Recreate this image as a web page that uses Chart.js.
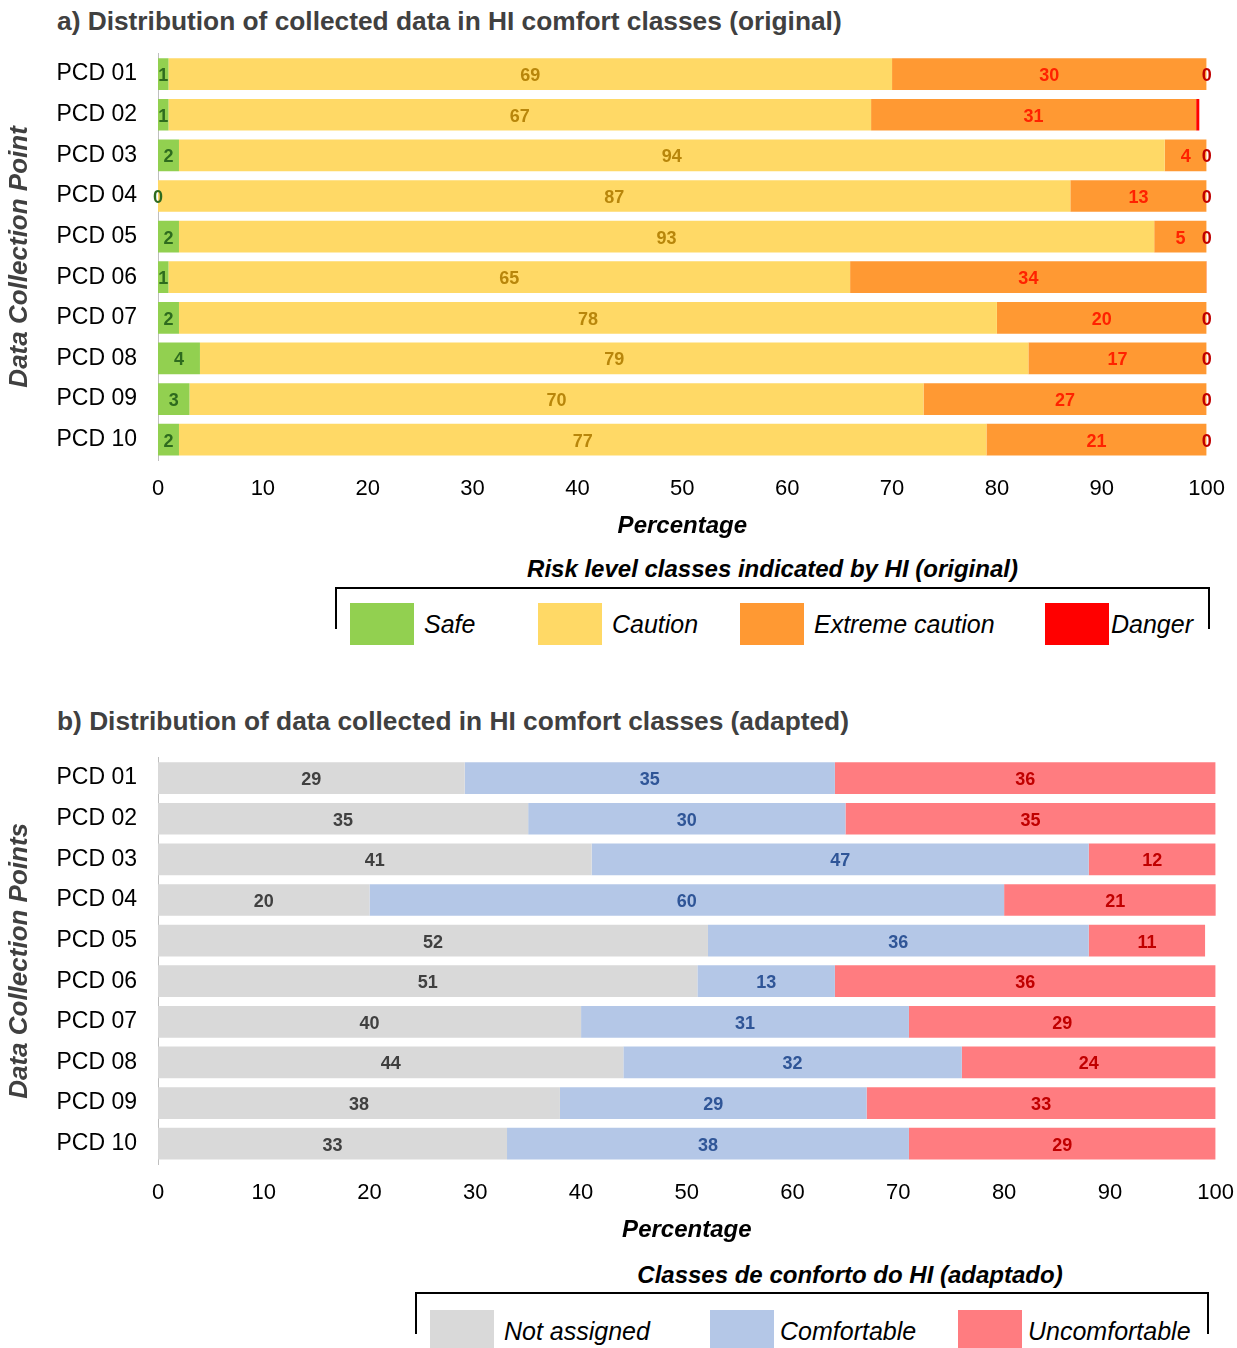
<!DOCTYPE html>
<html><head><meta charset="utf-8">
<script src="https://cdn.jsdelivr.net/npm/chart.js@4"></script>
<style>
body{margin:0;width:1237px;height:1348px;position:relative;background:#fff;font-family:"Liberation Sans",Arial,sans-serif;overflow:hidden}
.t{position:absolute;left:57px;font-weight:bold;font-size:26.3px;color:#404040}
.cv{position:absolute;left:0}
.lt{position:absolute;font-weight:bold;font-style:italic;font-size:24px;color:#000;text-align:center}
.lb{position:absolute;border:2px solid #000;border-bottom:none;height:40px}
.it{position:absolute;font-style:italic;font-size:25px;color:#000;display:flex;align-items:center}
.sw{display:inline-block;width:64px;height:42px;margin-right:10px}
</style></head><body>
<div class="t" style="top:6px">a) Distribution of collected data in HI comfort classes (original)</div>
<div class="cv" style="top:19px"><canvas id="c1" width="1241" height="526"></canvas></div>
<div class="lt" style="left:335px;width:875px;top:555px">Risk level classes indicated by HI (original)</div>
<div class="lb" style="left:335px;width:871px;top:587px"></div>
<div class="it" style="left:350px;top:603px"><span class="sw" style="background:#92d050"></span>Safe</div>
<div class="it" style="left:538px;top:603px"><span class="sw" style="background:#ffd966"></span>Caution</div>
<div class="it" style="left:740px;top:603px"><span class="sw" style="background:#ff9933"></span>Extreme caution</div>
<div class="it" style="left:1045px;top:603px"><span class="sw" style="background:#ff0000;margin-right:2px"></span>Danger</div>

<div class="t" style="top:706px">b) Distribution of data collected in HI comfort classes (adapted)</div>
<div class="cv" style="top:723px"><canvas id="c2" width="1250" height="526"></canvas></div>
<div class="lt" style="left:415px;width:870px;top:1261px">Classes de conforto do HI (adaptado)</div>
<div class="lb" style="left:415px;width:790px;top:1292px"></div>
<div class="it" style="left:430px;top:1310px"><span class="sw" style="background:#d9d9d9"></span>Not assigned</div>
<div class="it" style="left:710px;top:1310px"><span class="sw" style="background:#b4c7e7;margin-right:6px"></span>Comfortable</div>
<div class="it" style="left:958px;top:1310px"><span class="sw" style="background:#ff7c80;margin-right:6px"></span>Uncomfortable</div>
<script>
var categories=["PCD 01","PCD 02","PCD 03","PCD 04","PCD 05","PCD 06","PCD 07","PCD 08","PCD 09","PCD 10"];
var safe=[1,1,2,0,2,1,2,4,3,2];
var caution=[69,67,94,87,93,65,78,79,70,77];
var extreme=[30,31,4,13,5,34,20,17,27,21];
var danger=[0,0.3,0,0,0,0.3,0,0,0,0];
var notAssigned=[29,35,41,20,52,51,40,44,38,33];
var comfortable=[35,30,47,60,36,13,31,32,29,38];
var uncomfortable=[36,35,12,21,11,36,29,24,33,29];
var xTicks=[0,10,20,30,40,50,60,70,80,90,100];

var labelPlugin={id:'lbl',afterDatasetsDraw:function(chart){
  var ctx=chart.ctx;ctx.save();
  ctx.font='bold 18px "Liberation Sans", Arial';ctx.textAlign='center';ctx.textBaseline='middle';
  chart.data.datasets.forEach(function(ds,i){
    var meta=chart.getDatasetMeta(i);
    meta.data.forEach(function(bar,j){
      var v=ds.data[j];
      if(!Number.isInteger(v))return;
      ctx.fillStyle=ds.labelColor;
      ctx.fillText(String(v),(bar.x+bar.base)/2,bar.y+2);
    });
  });
  ctx.restore();
}};

function makeChart(id,sets,yTitle){
  new Chart(document.getElementById(id),{
    type:'bar',
    data:{labels:categories,datasets:sets.map(function(s){return {data:s[0],backgroundColor:s[1],labelColor:s[2],barPercentage:0.78,categoryPercentage:1}})},
    plugins:[labelPlugin],
    options:{indexAxis:'y',responsive:false,animation:false,
      layout:{padding:{top:7,right:0,left:0,bottom:0}},
      plugins:{legend:{display:false},tooltip:{enabled:false}},
      scales:{
        x:{stacked:true,min:0,max:100,afterBuildTicks:function(s){s.ticks=xTicks.map(function(v){return {value:v}})},
          grid:{display:false,drawTicks:false},border:{display:false},
          ticks:{color:'#000',font:{size:22,family:'"Liberation Sans", Arial'},padding:16,maxRotation:0},
          title:{display:true,text:'Percentage',color:'#000',font:{size:24,weight:'bold',style:'italic',family:'"Liberation Sans", Arial'},padding:{top:6}},
          afterFit:function(s){s.height=85}},
        y:{stacked:true,grid:{display:false,drawTicks:false},border:{display:true,color:'#bfbfbf'},
          ticks:{color:'#000',font:{size:23,family:'"Liberation Sans", Arial'},padding:21},
          title:{display:true,text:yTitle,color:'#404040',font:{size:26,weight:'bold',style:'italic',family:'"Liberation Sans", Arial'},padding:{bottom:0}},
          afterFit:function(s){s.width=158}}
      }}
  });
}
makeChart('c1',[[safe,'#92d050','#2e6b1e'],[caution,'#ffd966','#b8860b'],[extreme,'#ff9933','#ff2200'],[danger,'#ff0000','#c00000']],'Data Collection Point');
makeChart('c2',[[notAssigned,'#d9d9d9','#404040'],[comfortable,'#b4c7e7','#2f5597'],[uncomfortable,'#ff7c80','#c00000']],'Data Collection Points');
</script>
</body></html>
